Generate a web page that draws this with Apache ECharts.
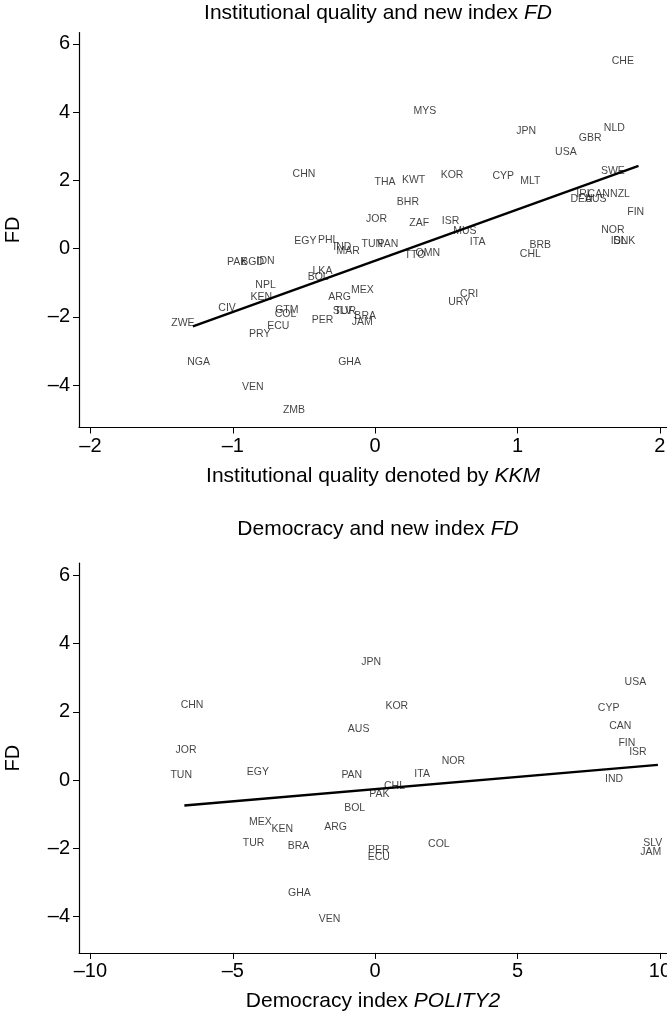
<!DOCTYPE html>
<html>
<head>
<meta charset="utf-8">
<script src="https://cdn.jsdelivr.net/npm/echarts@6/dist/echarts.min.js"></script>
<style>
html,body{margin:0;padding:0;background:#fff;}
#chart{width:667px;height:1019px;}
</style>
</head>
<body>
<div id="chart"></div>
<script>
// ---- Panel 1: Institutional quality (KKM) vs FD ----
const codes1 = ['CHE','MYS','JPN','NLD','GBR','USA','SWE','KOR','CYP','MLT','IRL','CAN','NZL','DEU','AUS','FIN','NOR','ISL','DNK',
  'CHN','THA','KWT','BHR','JOR','ZAF','ISR','MUS','ITA','BRB','CHL','TTO','OMN','EGY','PHL','IND','MAR','TUN','PAN',
  'PAK','BGD','IDN','LKA','BOL','NPL','KEN','CIV','ZWE','GTM','COL','ECU','PRY','PER','ARG','MEX','SLV','TUR','BRA','JAM',
  'CRI','URY','NGA','GHA','VEN','ZMB'];
const kkm = [1.74,0.35,1.06,1.68,1.51,1.34,1.67,0.54,0.90,1.09,1.47,1.57,1.72,1.45,1.55,1.83,1.67,1.71,1.75,
  -0.50,0.07,0.27,0.23,0.01,0.31,0.53,0.63,0.72,1.16,1.09,0.28,0.37,-0.49,-0.33,-0.23,-0.19,-0.02,0.09,
  -0.97,-0.86,-0.77,-0.37,-0.40,-0.77,-0.80,-1.04,-1.35,-0.62,-0.63,-0.68,-0.81,-0.37,-0.25,-0.09,-0.23,-0.21,-0.07,-0.09,
  0.66,0.59,-1.24,-0.18,-0.86,-0.57];
const fd1 = [5.50,4.04,3.45,3.53,3.23,2.84,2.28,2.16,2.13,1.98,1.60,1.60,1.60,1.46,1.46,1.07,0.55,0.23,0.23,
  2.18,1.94,2.01,1.36,0.87,0.76,0.81,0.52,0.18,0.11,-0.16,-0.20,-0.13,0.23,0.25,0.03,-0.07,0.14,0.14,
  -0.40,-0.40,-0.38,-0.65,-0.84,-1.06,-1.43,-1.75,-2.17,-1.80,-1.91,-2.26,-2.51,-2.09,-1.41,-1.21,-1.82,-1.82,-1.97,-2.14,
  -1.33,-1.57,-3.33,-3.33,-4.07,-4.72];
const fit1X = [-1.28, 1.85];
const fit1Y = [-2.28, 2.42];

// ---- Panel 2: Democracy (POLITY2) vs FD ----
const codes2 = ['JPN','CHN','KOR','AUS','JOR','NOR','TUN','EGY','PAN','ITA','CHL','PAK','BOL','MEX','KEN','ARG','TUR','BRA',
  'COL','PER','ECU','GHA','VEN','USA','CYP','CAN','FIN','ISR','IND','SLV','JAM'];
const polity = [-0.14,-6.43,0.76,-0.58,-6.64,2.75,-6.81,-4.12,-0.82,1.65,0.68,0.15,-0.72,-4.03,-3.26,-1.39,-4.27,-2.69,
  2.24,0.13,0.13,-2.66,-1.60,9.14,8.20,8.61,8.84,9.23,8.39,9.75,9.68];
const fd2 = [3.45,2.20,2.16,1.49,0.89,0.56,0.15,0.23,0.16,0.18,-0.17,-0.40,-0.82,-1.23,-1.44,-1.38,-1.83,-1.92,
  -1.88,-2.06,-2.26,-3.31,-4.06,2.87,2.11,1.60,1.08,0.81,0.03,-1.83,-2.10];
const fit2X = [-6.70, 9.93];
const fit2Y = [-0.74, 0.45];

// ---- tick labels ----
const yTicks = [-4,-2,0,2,4,6];
const xTicks1 = [-2,-1,0,1,2];
const xTicks2 = [-10,-5,0,5,10];

const FONT = '"Liberation Sans", Arial, Helvetica, sans-serif';
const fmt = v => (v < 0 ? '\u2013' + Math.abs(v) : String(v));

function pts(codes, xs, ys){ return codes.map((c,i)=>({name:c, value:[xs[i], ys[i]]})); }
function line(xs, ys){ return xs.map((x,i)=>[x, ys[i]]); }

const axisCommon = {
  axisLine:{show:true, onZero:false, lineStyle:{color:'#000', width:1.2}},
  axisTick:{show:true, inside:false, length:6, lineStyle:{color:'#000', width:1}},
  splitLine:{show:false},
  axisLabel:{color:'#000', fontSize:20, fontFamily:FONT, formatter:fmt},
};
const richName = {n:{fontSize:21, fontFamily:FONT, color:'#000'}, i:{fontSize:21, fontFamily:FONT, fontStyle:'italic', color:'#000'}};
function xAxis(idx, min, max, ticks, nameRich){
  return Object.assign({}, axisCommon, {
    type:'value', gridIndex:idx, min:min, max:max,
    axisTick:Object.assign({}, axisCommon.axisTick, {customValues:ticks}),
    axisLabel:Object.assign({}, axisCommon.axisLabel, {customValues:ticks, margin:9}),
    name:nameRich, nameLocation:'middle', nameGap:38,
    nameTextStyle:{color:'#000', fontSize:21, fontFamily:FONT, rich:richName}
  });
}
function yAxis(idx, min, max){
  return Object.assign({}, axisCommon, {
    type:'value', gridIndex:idx, min:min, max:max,
    axisTick:Object.assign({}, axisCommon.axisTick, {customValues:yTicks}),
    axisLabel:Object.assign({}, axisCommon.axisLabel, {customValues:yTicks, margin:9}),
    name:'FD', nameLocation:'middle', nameGap:56, nameRotate:90,
    nameTextStyle:{color:'#000', fontSize:20, fontFamily:FONT}
  });
}
const labelSeries = (idx, data) => ({
  type:'scatter', xAxisIndex:idx, yAxisIndex:idx, data:data, symbol:'circle', symbolSize:1,
  itemStyle:{color:'rgba(0,0,0,0)'}, silent:true,
  label:{show:true, position:'inside', formatter:p=>p.name, color:'#111', fontSize:10.5, fontFamily:FONT},
  labelLayout:{hideOverlap:false}
});
const fitSeries = (idx, data) => ({
  type:'line', xAxisIndex:idx, yAxisIndex:idx, data:data, symbol:'none',
  lineStyle:{color:'#000', width:2.4}, silent:true, z:3
});
const titleRich = {n:{fontSize:21, fontFamily:FONT, color:'#000', fontWeight:'normal'}, i:{fontSize:21, fontFamily:FONT, fontStyle:'italic', fontWeight:'normal', color:'#000'}};

const chart = echarts.init(document.getElementById('chart'), null, {renderer:'canvas'});
chart.setOption({
  backgroundColor:'#fff',
  animation:false,
  title:[
    {text:'{n|Institutional quality and new index }{i|FD}', left:373, top:-2, textAlign:'center', textStyle:{fontWeight:'normal', rich:titleRich}},
    {text:'{n|Democracy and new index }{i|FD}', left:373, top:514, textAlign:'center', textStyle:{fontWeight:'normal', rich:titleRich}}
  ],
  grid:[
    {left:79, right:0, top:32.5, height:395, containLabel:false, outerBoundsMode:'none'},
    {left:79, right:0, top:563.2, height:389.7, containLabel:false, outerBoundsMode:'none'}
  ],
  xAxis:[
    xAxis(0, -2.08, 2.05, xTicks1, '{n|Institutional quality denoted by }{i|KKM}'),
    xAxis(1, -10.4, 10.25, xTicks2, '{n|Democracy index }{i|POLITY2}')
  ],
  yAxis:[ yAxis(0, -5.24, 6.33), yAxis(1, -5.06, 6.36) ],
  series:[
    labelSeries(0, pts(codes1, kkm, fd1)),
    fitSeries(0, line(fit1X, fit1Y)),
    labelSeries(1, pts(codes2, polity, fd2)),
    fitSeries(1, line(fit2X, fit2Y))
  ]
});
</script>
</body>
</html>
